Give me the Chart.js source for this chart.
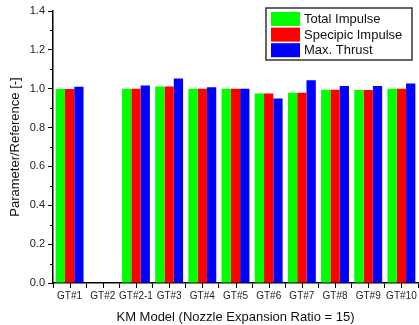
<!DOCTYPE html>
<html>
<head>
<meta charset="utf-8">
<script src="https://cdn.jsdelivr.net/npm/chart.js@4.4.1/dist/chart.umd.min.js"></script>
<style>
  html, body { margin: 0; padding: 0; background: #fff; }
  #wrap { width: 419px; height: 325px; }
</style>
</head>
<body>
<div id="wrap"><canvas id="barchart"></canvas></div>
<script>
const models = ['GT#1', 'GT#2', 'GT#2-1', 'GT#3', 'GT#4', 'GT#5', 'GT#6', 'GT#7', 'GT#8', 'GT#9', 'GT#10'];
const totalImpulse = [0.998, null, 1.0, 1.012, 1.0, 1.0, 0.976, 0.979, 0.995, 0.993, 1.0];
const specificImpulse = [0.998, null, 1.0, 1.012, 1.0, 1.0, 0.976, 0.979, 0.995, 0.993, 1.0];
const maxThrust = [1.01, null, 1.017, 1.053, 1.008, 1.0, 0.949, 1.044, 1.014, 1.014, 1.027];
const seriesNames = ['Total Impulse', 'Specipic Impulse', 'Max. Thrust'];
const seriesColors = ['rgb(0,255,0)', 'rgb(255,0,0)', 'rgb(0,0,255)'];
const yTicks = [0.0, 0.2, 0.4, 0.6, 0.8, 1.0, 1.2, 1.4];

const font = '"Liberation Sans", Arial, sans-serif';

// extra axis ticks: minor y ticks and x ticks at category centres
const axisTicks = {
    id: 'axisTicks',
    afterDraw(chart) {
        const c = chart.ctx;
        const x = chart.scales.x, y = chart.scales.y;
        c.save();
        c.strokeStyle = '#000';
        c.lineWidth = 1;
        c.beginPath();
        for (let i = 0; i < yTicks.length - 1; i++) {
            const py = Math.round(y.getPixelForValue((yTicks[i] + yTicks[i + 1]) / 2)) + 0.5;
            c.moveTo(x.left, py);
            c.lineTo(x.left - 3, py);
        }
        for (let i = 0; i < models.length; i++) {
            const px = Math.round(x.getPixelForValue(i)) + 0.5;
            c.moveTo(px, y.bottom);
            c.lineTo(px, y.bottom + 5);
        }
        c.stroke();
        c.restore();
    }
};

// boxed legend in the upper right corner
const boxLegend = {
    id: 'boxLegend',
    afterDraw(chart) {
        const c = chart.ctx;
        const left = 266, top = 8, w = 146, h = 52;
        c.save();
        c.fillStyle = '#fff';
        c.fillRect(left, top, w, h);
        c.strokeStyle = '#333';
        c.lineWidth = 1.5;
        c.strokeRect(left, top, w, h);
        c.font = '13px ' + font;
        c.textBaseline = 'middle';
        chart.data.datasets.forEach((ds, i) => {
            const ry = top + 4 + i * 15.6;
            c.fillStyle = ds.backgroundColor;
            c.fillRect(left + 5, ry, 29, 14);
            c.fillStyle = '#111';
            c.fillText(ds.label, left + 38, ry + 7.5);
        });
        c.restore();
    }
};

const ctx = document.getElementById('barchart');

new Chart(ctx, {
    type: 'bar',
    data: {
        labels: models,
        datasets: [
            { label: seriesNames[0], data: totalImpulse, backgroundColor: seriesColors[0] },
            { label: seriesNames[1], data: specificImpulse, backgroundColor: seriesColors[1] },
            { label: seriesNames[2], data: maxThrust, backgroundColor: seriesColors[2] }
        ]
    },
    options: {
        responsive: true,
        maintainAspectRatio: false,
        animation: false,
        layout: { padding: { top: 11, right: 1, left: 0, bottom: 0 } },
        datasets: {
            bar: { categoryPercentage: 0.84, barPercentage: 1.0, borderWidth: 0 }
        },
        plugins: {
            legend: { display: false },
            tooltip: { enabled: false }
        },
        scales: {
            x: {
                grid: {
                    offset: true,
                    drawOnChartArea: false,
                    drawTicks: true,
                    tickLength: 5,
                    color: '#000'
                },
                border: { color: '#000', width: 1.5 },
                ticks: {
                    color: '#222',
                    font: { family: font, size: 10 },
                    maxRotation: 0,
                    autoSkip: false,
                    padding: 2
                },
                title: {
                    display: true,
                    text: 'KM Model (Nozzle Expansion Ratio = 15)',
                    color: '#111',
                    font: { family: font, size: 13 },
                    padding: { top: 2, bottom: 0 }
                },
                afterFit(scale) { scale.height = 42; }
            },
            y: {
                min: 0,
                max: 1.4,
                afterBuildTicks(scale) {
                    scale.ticks = yTicks.map(v => ({ value: v }));
                },
                grid: {
                    drawOnChartArea: false,
                    drawTicks: true,
                    tickLength: 5,
                    color: '#000'
                },
                border: { color: '#000', width: 1.5 },
                ticks: {
                    color: '#222',
                    font: { family: font, size: 11 },
                    padding: 3,
                    callback: v => Number(v).toFixed(1)
                },
                title: {
                    display: true,
                    text: 'Parameter/Reference [-]',
                    color: '#111',
                    font: { family: font, size: 13 },
                    padding: { top: 8, bottom: 2 }
                },
                afterFit(scale) { scale.width = 53; }
            }
        }
    },
    plugins: [axisTicks, boxLegend]
});
</script>
</body>
</html>
